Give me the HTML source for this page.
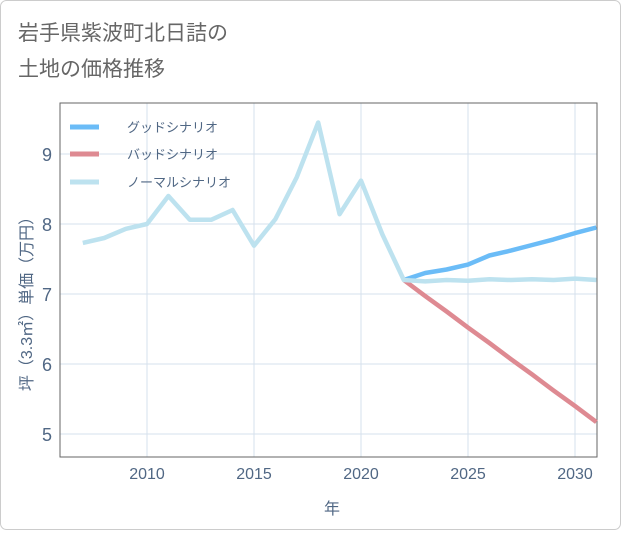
<!DOCTYPE html>
<html><head><meta charset="utf-8"><style>
body{margin:0;background:#fff;}
svg text{font-family:"Liberation Sans","Noto Sans CJK JP",sans-serif;}
</style></head><body>
<svg width="621" height="530">
<rect x="0.5" y="0.5" width="620" height="529" rx="6" fill="#fff" stroke="#ccc"/>
<text x="18" y="40" font-size="21" fill="#666">岩手県紫波町北日詰の</text>
<text x="18" y="76" font-size="21" fill="#666">土地の価格推移</text>
<g id="grid"></g>
<rect x="60" y="103" width="537" height="354" fill="none" stroke="#666" stroke-width="1"/>
<g id="series"></g>
<g id="axes"></g>
<text x="332" y="514" font-size="16" fill="#506784" text-anchor="middle">年</text>
<text transform="translate(32,300) rotate(-90)" font-size="16" fill="#506784" text-anchor="middle">坪（3.3㎡）単価（万円）</text>
<g>
<line x1="70" y1="127" x2="99" y2="127" stroke="#6bbcf7" stroke-width="5"/>
<text x="127" y="132" font-size="13" fill="#506784">グッドシナリオ</text>
<line x1="70" y1="154" x2="99" y2="154" stroke="#de8a92" stroke-width="5"/>
<text x="127" y="159" font-size="13" fill="#506784">バッドシナリオ</text>
<line x1="70" y1="182" x2="99" y2="182" stroke="#bde2ef" stroke-width="5"/>
<text x="127" y="187" font-size="13" fill="#506784">ノーマルシナリオ</text>
</g>
</svg>
<script>
const normalYears=[2007,2008,2009,2010,2011,2012,2013,2014,2015,2016,2017,2018,2019,2020,2021,2022,2023,2024,2025,2026,2027,2028,2029,2030,2031];
const normalVals=[7.73,7.8,7.93,8.0,8.4,8.06,8.06,8.2,7.69,8.07,8.67,9.45,8.14,8.62,7.85,7.2,7.18,7.2,7.19,7.21,7.2,7.21,7.2,7.22,7.2];
const futureYears=[2022,2023,2024,2025,2026,2027,2028,2029,2030,2031];
const goodVals=[7.2,7.3,7.35,7.42,7.55,7.62,7.7,7.78,7.87,7.95];
const badVals=[7.2,6.97,6.75,6.52,6.3,6.07,5.85,5.62,5.4,5.17];
const xTicks=[2010,2015,2020,2025,2030];
const yTicks=[5,6,7,8,9];
const X=y=>147+(y-2010)*21.4;
const Y=v=>224-(v-8)*70;
const NS="http://www.w3.org/2000/svg";
function mk(t,a,p){const e=document.createElementNS(NS,t);for(const k in a)e.setAttribute(k,a[k]);p.appendChild(e);return e;}
const grid=document.getElementById('grid'),axes=document.getElementById('axes'),ser=document.getElementById('series');
xTicks.forEach(t=>{
 const l=mk('line',{x1:X(t),x2:X(t),y1:103,y2:457,stroke:'#d5e1ec'},grid);
 
 
 const tx=mk('text',{x:X(t),y:479,'font-size':16,fill:'#506784','text-anchor':'middle'},axes);tx.textContent=t;
 
 
});
yTicks.forEach(t=>{
 const l=mk('line',{x1:60,x2:597,y1:Y(t),y2:Y(t),stroke:'#d5e1ec'},grid);
 
 
 const tx=mk('text',{x:52,y:Y(t)+7,'font-size':18,fill:'#506784','text-anchor':'end'},axes);tx.textContent=t;
 
 
});
function line(xs,vs,c,name){
 const p=mk('polyline',{points:xs.map((x,i)=>X(x)+','+Y(vs[i])).join(' '),fill:'none',stroke:c,'stroke-width':4.5,'stroke-linejoin':'round'},ser);
 
 
}
line(futureYears,goodVals,'#6bbcf7','good-scenario-line');
line(futureYears,badVals,'#de8a92','bad-scenario-line');
line(normalYears,normalVals,'#bde2ef','normal-scenario-line');
</script>
</body></html>
